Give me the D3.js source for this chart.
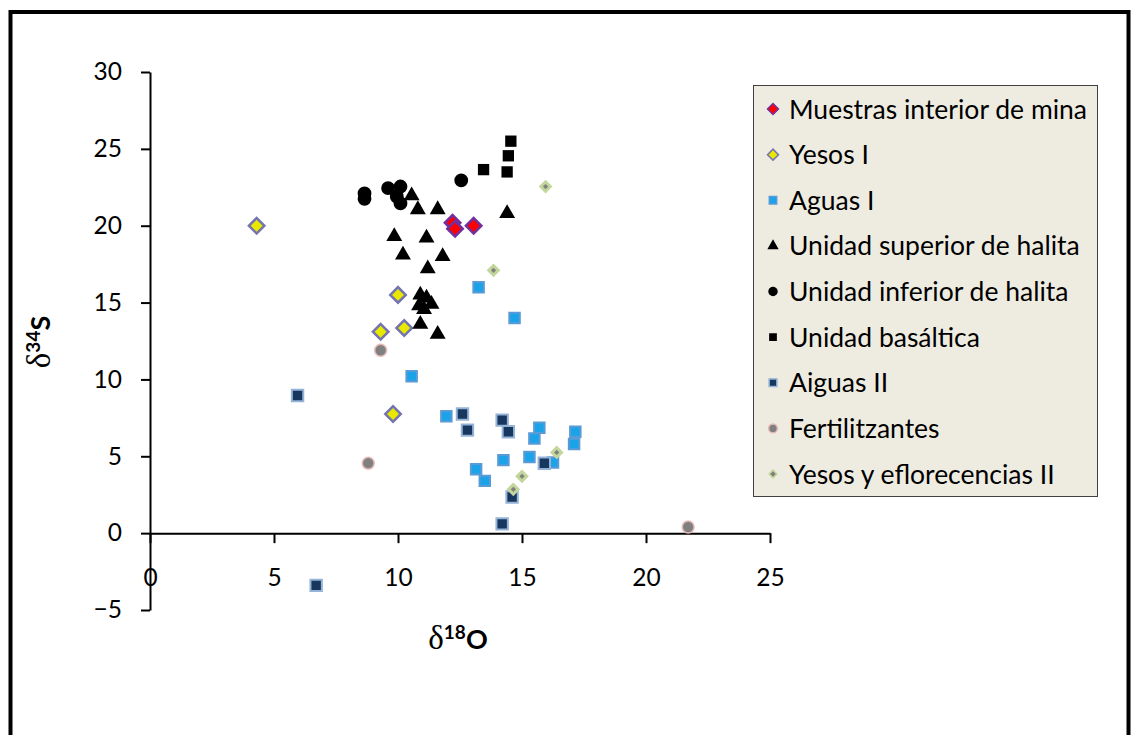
<!DOCTYPE html>
<html>
<head>
<meta charset="utf-8">
<script src="https://cdn.jsdelivr.net/npm/d3@7"></script>
<style>
  body { margin: 0; background: #fff; }
  svg { display: block; font-family: Lato, "Open Sans", sans-serif; }
  .axis path, .axis line { stroke: #000; stroke-width: 2; }
  .axis text { font-size: 24.5px; fill: #000; font-family: Lato, sans-serif; }
</style>
</head>
<body>
<div class="vis"></div>
<script>
// data: [δ18O, δ34S]
const muestrasMina = [[12.2, 20.2], [12.3, 19.8], [13.05, 20.0]];
const yesosI = [[4.3, 20.0], [10.0, 15.5], [9.3, 13.1], [10.25, 13.35], [9.8, 7.75]];
const aguasI = [[13.25, 16.0], [14.7, 14.0], [10.55, 10.2], [11.95, 7.6], [15.7, 6.85], [15.5, 6.15],
  [17.15, 6.6], [17.1, 5.8], [14.25, 4.75], [15.3, 4.95], [16.25, 4.6], [13.15, 4.15], [13.5, 3.4]];
const unidadSuperior = [[10.55, 21.95], [10.8, 21.05], [11.6, 21.05], [14.4, 20.8], [9.85, 19.3],
  [11.15, 19.2], [10.2, 18.1], [11.8, 18.0], [11.2, 17.2], [10.9, 15.5], [11.15, 15.3], [11.35, 14.9],
  [10.85, 14.8], [11.05, 14.55], [10.9, 13.6], [11.6, 12.95]];
const unidadInferior = [[8.65, 22.1], [8.65, 21.75], [9.6, 22.45], [10.1, 22.55], [9.95, 21.9],
  [10.1, 21.45], [12.55, 22.95]];
const unidadBasaltica = [[14.55, 25.5], [14.45, 24.55], [13.45, 23.65], [14.4, 23.5]];
const aiguasII = [[12.6, 7.75], [12.8, 6.7], [14.2, 7.35], [14.45, 6.6], [15.9, 4.55], [14.6, 2.35],
  [14.2, 0.6], [5.95, 8.95], [6.7, -3.4]];
const fertilitzantes = [[9.3, 11.9], [8.8, 4.55], [21.7, 0.4]];
const yesosII = [[15.0, 3.7], [14.65, 2.85], [16.4, 5.25], [13.85, 17.1], [15.95, 22.55]];

const seriesNames = ["Muestras interior de mina", "Yesos I", "Aguas I", "Unidad superior de halita",
  "Unidad inferior de halita", "Unidad basáltica", "Aiguas II", "Fertilitzantes", "Yesos y eflorecencias II"];
const xTicks = [0, 5, 10, 15, 20, 25];
const yTicks = [-5, 0, 5, 10, 15, 20, 25, 30];

// marker styles per series
const styles = [
  { shape: "diamond", size: 120, fill: "#ff0000", stroke: "#7030a0", sw: 2.5, lsize: 60 },
  { shape: "diamond", size: 120, fill: "#e8e800", stroke: "#7474b0", sw: 2.5, lsize: 60 },
  { shape: "square", size: 110, fill: "#1aa3e8", stroke: "#5b9bd5", sw: 2, lsize: 55 },
  { shape: "triangle", size: 110, fill: "#000", stroke: "none", sw: 0, lsize: 55 },
  { shape: "circle", size: 150, fill: "#000", stroke: "none", sw: 0, lsize: 70 },
  { shape: "square", size: 128, fill: "#000", stroke: "none", sw: 0, lsize: 60 },
  { shape: "square", size: 130, fill: "#17375e", stroke: "#95b3d7", sw: 2, lsize: 60 },
  { shape: "circle", size: 110, fill: "#808080", stroke: "#e6b9b8", sw: 1.5, lsize: 60 },
  { shape: "diamond", size: 45, fill: "#808080", stroke: "#c3d69b", sw: 3, lsize: 30 }
];
const allSeries = [muestrasMina, yesosI, aguasI, unidadSuperior, unidadInferior, unidadBasaltica,
  aiguasII, fertilitzantes, yesosII];

const W = 1134, H = 735;
const svg = d3.select(".vis").append("svg").attr("width", W).attr("height", H);

// outer frame
svg.append("rect").attr("x", 10.5).attr("y", 12).attr("width", 1118).attr("height", 800)
  .attr("fill", "none").attr("stroke", "#000").attr("stroke-width", 4);

const x = d3.scaleLinear().domain([0, 25]).range([150, 770]);
const y = d3.scaleLinear().domain([-5, 30]).range([610, 72]);

const symType = s => s === "square" || s === "diamond" ? d3.symbolSquare
  : s === "triangle" ? d3.symbolTriangle : d3.symbolCircle;

// axes
const gx = svg.append("g").attr("class", "axis")
  .attr("transform", `translate(0, ${y(0)})`)
  .call(d3.axisBottom(x).tickValues(xTicks).tickSize(10).tickSizeOuter(0));
gx.selectAll("text").attr("y", 35);

const gy = svg.append("g").attr("class", "axis")
  .attr("transform", `translate(${x(0)}, 0)`)
  .call(d3.axisLeft(y).tickValues(yTicks).tickSize(9).tickSizeOuter(0).tickPadding(19));

// points
allSeries.forEach((data, i) => {
  const st = styles[i];
  svg.append("g").selectAll("path").data(data).join("path")
    .attr("d", d3.symbol(symType(st.shape), st.size))
    .attr("transform", d => `translate(${x(d[0])}, ${y(d[1])})` + (st.shape === "diamond" ? " rotate(45)" : ""))
    .attr("fill", st.fill)
    .attr("stroke", st.stroke)
    .attr("stroke-width", st.sw);
});

// axis titles
const titleParts = (sel, sup, letter) => {
  sel.append("tspan").text("δ").style("font-family", "'Liberation Serif', serif")
    .style("font-weight", "normal").style("font-size", "33px");
  sel.append("tspan").text(sup).attr("dy", -10).style("font-size", "19px");
  sel.append("tspan").text(letter).attr("dy", 10);
};
const xt = svg.append("text").attr("x", 458).attr("y", 649).attr("text-anchor", "middle")
  .style("font-size", "27px").style("font-weight", "bold");
titleParts(xt, "18", "O");

const yt = svg.append("text").attr("transform", "translate(50, 342) rotate(-90)").attr("text-anchor", "middle")
  .style("font-size", "27px").style("font-weight", "bold");
titleParts(yt, "34", "S");

// legend
const legend = svg.append("g");
legend.append("rect").attr("x", 753.5).attr("y", 85.5).attr("width", 344).attr("height", 411)
  .attr("fill", "#eeece1").attr("stroke", "#404040").attr("stroke-width", 1);
const rowY = d3.scaleLinear().domain([0, 8]).range([109, 474]);
seriesNames.forEach((name, i) => {
  const st = styles[i];
  legend.append("path")
    .attr("d", d3.symbol(symType(st.shape), st.lsize))
    .attr("transform", `translate(773, ${rowY(i)})` + (st.shape === "diamond" ? " rotate(45)" : ""))
    .attr("fill", st.fill).attr("stroke", st.stroke).attr("stroke-width", Math.min(st.sw, 1.5));
  legend.append("text").attr("x", 789).attr("y", rowY(i)).attr("dy", "0.36em")
    .style("font-size", "26.5px").text(name);
});
</script>
</body>
</html>
